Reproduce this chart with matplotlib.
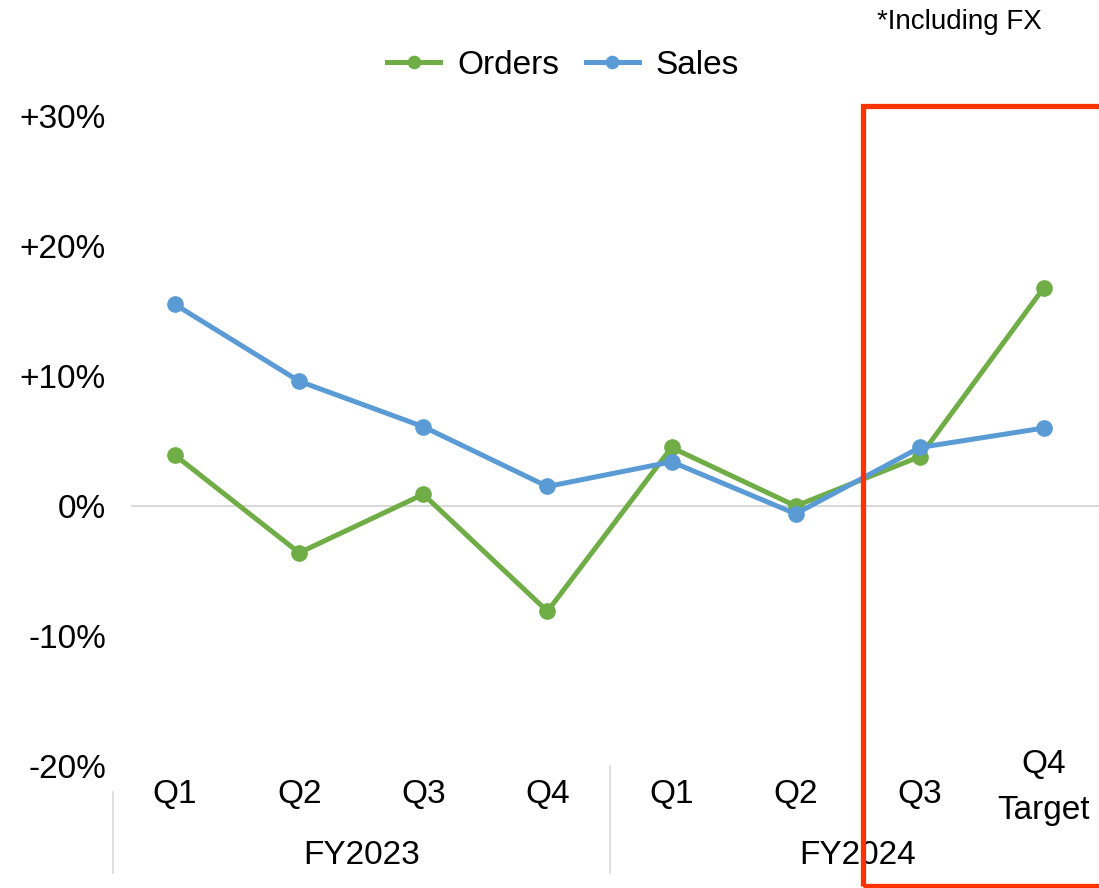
import numpy as np
import matplotlib.pyplot as plt
from matplotlib.patches import Rectangle

plt.rcParams['font.family'] = ['Liberation Sans', 'DejaVu Sans']

# Data (growth, %)
quarters = ['Q1', 'Q2', 'Q3', 'Q4', 'Q1', 'Q2', 'Q3', 'Q4\nTarget']
years = ['FY2023', 'FY2024']
orders = [3.9, -3.6, 0.9, -8.1, 4.5, 0.0, 3.8, 16.8]
sales = [15.5, 9.6, 6.1, 1.5, 3.4, -0.6, 4.5, 6.0]
yticks = [-20, -10, 0, 10, 20, 30]
ytick_labels = ['-20%', '-10%', '0%', '+10%', '+20%', '+30%']

W, H = 1099, 888
FS = 24
fig = plt.figure(figsize=(W / 100, H / 100), dpi=100)

# plot area in pixels: x 113..1106, y 116..766
ax = fig.add_axes([113 / W, (H - 766) / H, 993 / W, 650 / H])
x = np.arange(len(quarters))

ax.plot([-0.35, 7.5], [0, 0], color='#d9d9d9', lw=1.5, zorder=1)
ax.plot(x, orders, color='#70ad47', lw=3.6, marker='o', ms=11, label='Orders', zorder=3)
ax.plot(x, sales, color='#5b9bd5', lw=3.6, marker='o', ms=11, label='Sales', zorder=4)

ax.set_xlim(-0.5, 7.5)
ax.set_ylim(-20, 30)
ax.set_yticks(yticks)
ax.set_yticklabels(ytick_labels, fontsize=FS)
ax.set_xticks([])
ax.tick_params(axis='y', length=0, pad=5)
for s in ax.spines.values():
    s.set_visible(False)

# category labels
for i, q in enumerate(quarters):
    lines = q.split('\n')
    if len(lines) == 2:
        ax.text(i, -19.9, lines[0], ha='center', va='center', fontsize=FS, clip_on=False)
        ax.text(i, -23.4, lines[1], ha='center', va='center', fontsize=FS, clip_on=False)
    else:
        ax.text(i, -22.2, q, ha='center', va='center', fontsize=FS, clip_on=False)
for j, yr in enumerate(years):
    ax.text(1.5 + 4 * j, -26.85, yr, ha='center', va='center', fontsize=FS, clip_on=False)

# group separators
sep_kw = dict(color='#d9d9d9', lw=1.2, clip_on=False)
ax.plot([-0.5, -0.5], [-22.0, -28.2], **sep_kw)
ax.plot([3.5, 3.5], [-20.0, -28.2], **sep_kw)

leg = fig.legend(loc='center', bbox_to_anchor=(563 / W, (H - 65) / H), ncol=2,
                 frameon=False, fontsize=FS, handlelength=1.6, columnspacing=0.8,
                 handletextpad=0.5, markerscale=0.8)

fig.text(1042 / W, (H - 22) / H, '*Including FX', ha='right', va='center', fontsize=20)

# red highlight box
fig.patches.append(Rectangle((863 / W, (H - 886) / H), 260 / W, 780 / H,
                             transform=fig.transFigure, fill=False,
                             edgecolor='#ff3300', lw=3.8, zorder=10))

fig.savefig('out.png', dpi=100)
